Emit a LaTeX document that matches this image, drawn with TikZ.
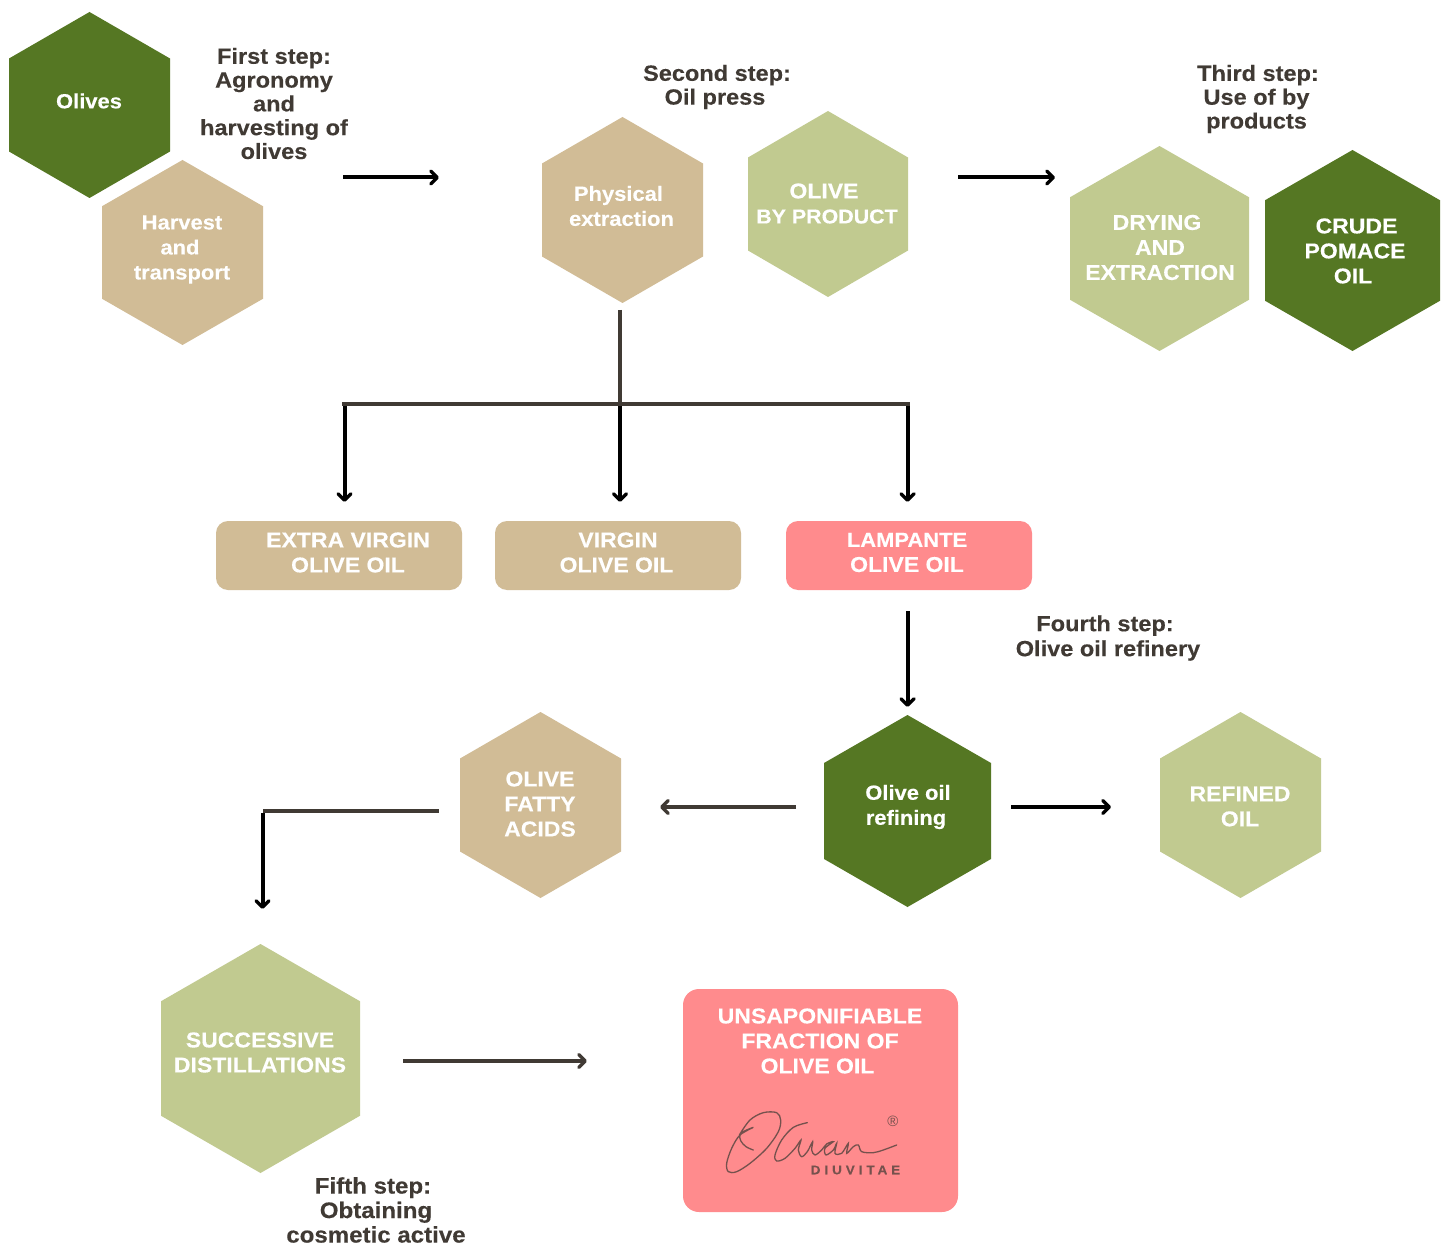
\documentclass[tikz,border=0pt]{standalone}
\usepackage{fontspec}
\setmainfont{Liberation Sans}[BoldFeatures={FakeStretch=1.07,FakeBold=0.25}]
\usetikzlibrary{arrows.meta}
\definecolor{dgreen}{HTML}{557723}
\definecolor{tan}{HTML}{D1BC96}
\definecolor{sage}{HTML}{C1CA90}
\definecolor{pinkc}{HTML}{FF8B8D}
\definecolor{ink}{HTML}{403A34}
\tikzset{
  hextext/.style={text=white,font=\fontsize{21.5}{25}\bfseries\selectfont,align=center,inner sep=0pt},
  hexsmall/.style={text=white,font=\fontsize{20.5}{25}\bfseries\selectfont,align=center,inner sep=0pt},
  steptext/.style={text=ink,font=\fontsize{22}{23.8}\bfseries\selectfont,align=center,inner sep=0pt},
  tip/.style={-{Straight Barb[round,length=6.5pt,width=13pt,line width=3.5pt]}},
  flow/.style={tip,line width=4pt,black},
  flowdark/.style={tip,line width=3.5pt,ink},
  trunk/.style={line width=4pt,ink},
}
% name, left, right, top, bottom, colour, text centre x, text centre y, text
\newcommand{\hexshape}[6]{%
  \fill[#6] ({(#2+#3)/2},#4) -- (#3,{#4+(#5-#4)/4}) -- (#3,{#5-(#5-#4)/4}) -- ({(#2+#3)/2},#5) -- (#2,{#5-(#5-#4)/4}) -- (#2,{#4+(#5-#4)/4}) -- cycle;}
\newcommand{\hexa}[9]{\hexshape{#1}{#2}{#3}{#4}{#5}{#6}\node[hextext] (#1) at (#7,#8) {#9};}
\newcommand{\hexb}[9]{\hexshape{#1}{#2}{#3}{#4}{#5}{#6}\node[hexsmall] (#1) at (#7,#8) {#9};}
\begin{document}
\begin{tikzpicture}[x=1pt,y=-1pt]
\useasboundingbox (0,0) rectangle (1450,1246);
\fill[white] (0,0) rectangle (1450,1246);
% hexagons
\hexb{olives}{9}{170}{12}{198}{dgreen}{89}{101}{Olives}
\hexb{harvest}{102}{263}{160}{345}{tan}{182}{249.5}{Harvest\\\hspace*{-4pt}and\\transport}
\hexb{physical}{542}{703}{117}{303}{tan}{621.5}{206}{\hspace*{-6pt}Physical\\extraction}
\hexa{byprod}{748}{908}{111}{297}{sage}{827}{203.5}{\hspace*{-6pt}OLIVE\\\fontsize{20}{25}\selectfont BY PRODUCT}
\hexa{drying}{1070}{1249}{146}{351}{sage}{1160}{247.5}{\hspace*{-6pt}DRYING\\AND\\EXTRACTION}
\hexa{crude}{1265}{1440}{150}{351}{dgreen}{1355}{251}{\hspace*{3pt}CRUDE\\POMACE\\\hspace*{-4pt}OIL}
\hexa{fatty}{460}{621}{712}{898}{tan}{540}{804}{OLIVE\\FATTY\\ACIDS}
\hexb{refining}{824}{991}{715}{907}{dgreen}{906}{807}{\hspace*{4pt}Olive oil\\refining}
\hexa{refined}{1160}{1321}{712}{898}{sage}{1240}{806.5}{REFINED\\OIL}
\hexa{success}{161}{360}{944}{1173}{sage}{260}{1052.5}{SUCCESSIVE\\DISTILLATIONS}
% boxes
\fill[tan,rounded corners=12pt] (216,521) rectangle (462,590);
\node[hextext] (extra) at (348,552.5) {EXTRA VIRGIN\\OLIVE OIL};
\fill[tan,rounded corners=12pt] (495,521) rectangle (741,590);
\node[hextext] (virgin) at (616.5,552.5) {\hspace*{3pt}VIRGIN\\OLIVE OIL};
\fill[pinkc,rounded corners=12pt] (786,521) rectangle (1032,590);
\node[hexsmall] (lampante) at (907,552.5) {LAMPANTE\\\fontsize{21.5}{25}\selectfont OLIVE OIL};
\fill[pinkc,rounded corners=16pt] (683,989) rectangle (958,1212);
\node[hextext] (unsap) at (820,1041) {UNSAPONIFIABLE\\FRACTION OF\\\hspace*{-5pt}OLIVE OIL};
% logo
\begin{scope}[shift={(720,1100)},x=0.3333pt,y=-0.3333pt,line width=1.3pt,color=ink!72!pinkc,line cap=round]
\draw plot[smooth,tension=0.55] coordinates {(100,150) (78,140) (62,122) (62,100) (100,82) (60,105) (35,145) (20,190) (25,215) (50,215) (90,190) (140,145) (175,95) (182,60) (170,38) (130,38) (90,60) (58,105)};
\draw plot[smooth,tension=0.55] coordinates {(262,68) (220,82) (185,120) (165,165) (170,183) (195,175) (225,145) (243,120) (235,150) (245,170) (262,155) (278,125) (275,150) (285,165) (305,150) (320,132) (340,125) (315,145) (318,165) (340,150) (350,130) (345,160) (365,160) (385,130) (380,160) (400,140) (415,135) (425,155) (460,158) (490,150) (530,135)};
\end{scope}
\node[text=ink!72!pinkc,font=\fontsize{15}{15}\selectfont,inner sep=0pt] (reg) at (893,1121) {®};
\node[text=ink!72!pinkc,font=\fontsize{12.5}{13}\selectfont,inner sep=0pt] (diuv) at (855.5,1170) {\addfontfeature{LetterSpace=32}\bfseries DIUVITAE};
% step labels
\node[steptext] (s1) at (274,103.5) {First step:\\Agronomy\\and\\harvesting of\\olives};
\node[steptext] (s2) at (717,87) {Second step:\\\hspace*{-4pt}Oil press};
\node[steptext] (s3) at (1256.5,99) {\hspace*{3pt}Third step:\\Use of by\\products};
\node[steptext,font=\fontsize{22}{25}\bfseries\selectfont] (s4) at (1108,638) {\hspace*{-6pt}Fourth step:\\Olive oil refinery};
\node[steptext,font=\fontsize{22.5}{24.5}\bfseries\selectfont] (s5) at (376,1210) {\hspace*{-6pt}Fifth step:\\Obtaining\\cosmetic active};
% connector ends
\coordinate (a1) at (343,177.5); \coordinate (a2) at (439,177.5);
\coordinate (b1) at (958,177.5); \coordinate (b2) at (1055,177.5);
\coordinate (t0) at (620,310); \coordinate (t1) at (620,404);
\coordinate (tl) at (342,404); \coordinate (tr) at (910,404);
\coordinate (d1) at (344.5,406); \coordinate (d1e) at (344.5,502);
\coordinate (d2) at (620,406); \coordinate (d2e) at (620,502);
\coordinate (d3) at (907.5,406); \coordinate (d3e) at (907.5,502);
\coordinate (e1) at (907.5,611); \coordinate (e2) at (907.5,707);
\coordinate (f1) at (796,807); \coordinate (f2) at (660,807);
\coordinate (g1) at (1011,807); \coordinate (g2) at (1111,807);
\coordinate (h1) at (438.5,811); \coordinate (h2) at (263,811);
\coordinate (i1) at (262.5,813); \coordinate (i2) at (262.5,909);
\coordinate (j1) at (403,1061); \coordinate (j2) at (587,1061);
% connectors
\draw[flow] (a1) -- (a2);
\draw[flow] (b1) -- (b2);
\draw[trunk] (t0) -- (t1);
\draw[trunk] (tl) -- (tr);
\draw[flow] (d1) -- (d1e);
\draw[flow] (d2) -- (d2e);
\draw[flow] (d3) -- (d3e);
\draw[flow] (e1) -- (e2);
\draw[flowdark] (f1) -- (f2);
\draw[flow] (g1) -- (g2);
\draw[trunk,line width=3.5pt] (h1) -- (h2);
\draw[flow] (i1) -- (i2);
\draw[flowdark] (j1) -- (j2);
\end{tikzpicture}
\end{document}
